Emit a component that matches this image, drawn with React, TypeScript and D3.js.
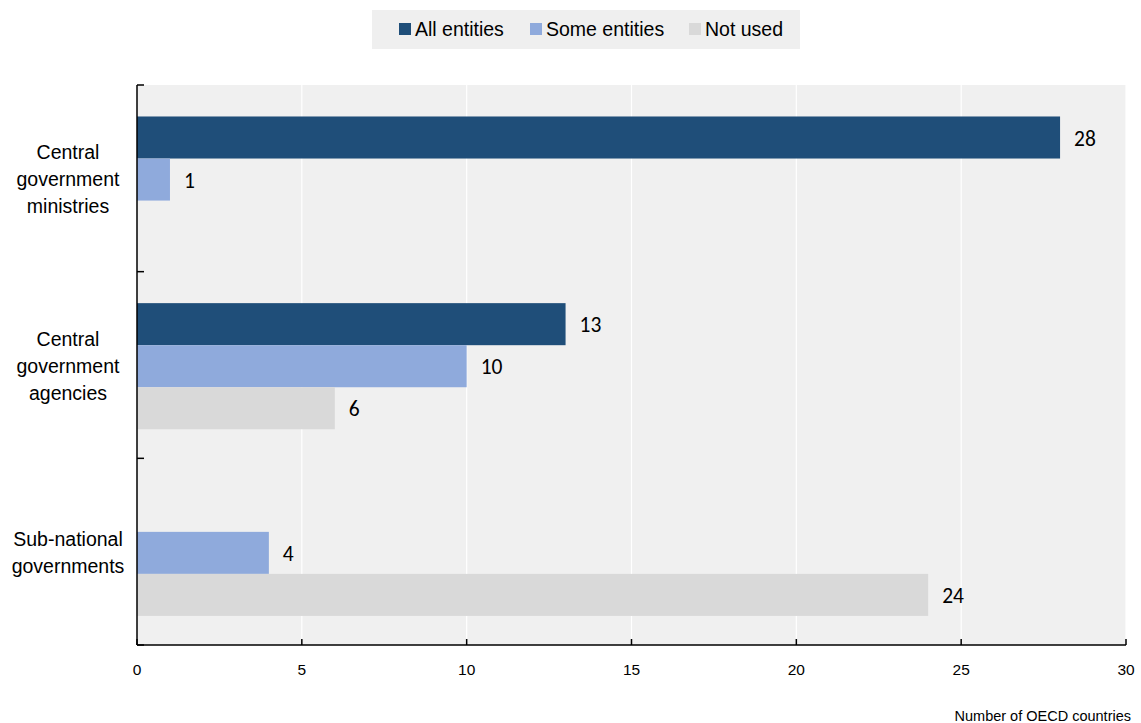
import React from "react";
import * as d3 from "d3";

const categories = ["Central government ministries", "Central government agencies", "Sub-national governments"];
const categoryLines = [["Central", "government", "ministries"], ["Central", "government", "agencies"], ["Sub-national", "governments"]];
const seriesNames = ["All entities", "Some entities", "Not used"];
const allEntities = [28, 13, 0];
const someEntities = [1, 10, 4];
const notUsed = [0, 6, 24];
const xTicks = [0, 5, 10, 15, 20, 25, 30];
const colors = ["#1F4E79", "#8FAADC", "#D9D9D9"];

export default function App() {
  const W = 1141, H = 723;
  const left = 137, right = 1126, top = 85, bottom = 645;
  const x = d3.scaleLinear().domain([0, 30]).range([left, right]);
  const y = d3.scaleBand().domain(categories).range([top, bottom]);
  const inner = d3.scaleBand().domain(seriesNames).range([0, y.bandwidth()]).paddingOuter(0.72).paddingInner(0).align(0.52);
  const series = [allEntities, someEntities, notUsed];
  const legendItems = [
    { name: seriesNames[0], x: 399, tx: 415 },
    { name: seriesNames[1], x: 530, tx: 546 },
    { name: seriesNames[2], x: 689, tx: 705 },
  ];
  return (
    <svg width={W} height={H} style={{ position: "absolute", left: 0, top: 0, fontFamily: "Liberation Sans, Arial, sans-serif" }}>
      <rect x={0} y={0} width={W} height={H} fill="#fff" />
      {/* legend */}
      <rect x={372} y={10} width={428} height={39} fill="#EFEFEF" />
      {legendItems.map((l, i) => (
        <g key={l.name}>
          <rect x={l.x} y={23} width={12} height={12} fill={colors[i]} />
          <text x={l.tx} y={36} fontSize={19.5} fill="#000">{l.name}</text>
        </g>
      ))}
      {/* plot area */}
      <rect x={left} y={top} width={right - left} height={bottom - top} fill="#F0F0F0" />
      {xTicks.slice(1).map(t => (
        <line key={t} x1={x(t)} x2={x(t)} y1={top} y2={bottom} stroke="#fff" strokeWidth={1.2} />
      ))}
      {categories.map((c, ci) => (
        <g key={c}>
          {series.map((s, si) => {
            const v = s[ci];
            const by = (y(c) as number) + (inner(seriesNames[si]) as number);
            return (
              <g key={si}>
                {v > 0 && <rect x={x(0)} y={by} width={x(v) - x(0)} height={inner.bandwidth()} fill={colors[si]} />}
                {v > 0 && (
                  <text x={x(v) + 14} y={by + inner.bandwidth() / 2 + 8} fontSize={21.5} fontFamily="Carlito, 'Open Sans', sans-serif" fill="#000">{v}</text>
                )}
              </g>
            );
          })}
          {categoryLines[ci].map((ln, li) => {
            const n = categoryLines[ci].length;
            const cy = (y(c) as number) + y.bandwidth() / 2 + (li - (n - 1) / 2) * 27 + 8;
            return (
              <text key={li} x={68} y={cy} textAnchor="middle" fontSize={19.5} fill="#000">{ln}</text>
            );
          })}
        </g>
      ))}
      {/* axes */}
      <line x1={left} x2={left} y1={top} y2={bottom} stroke="#000" strokeWidth={1.5} />
      <line x1={left} x2={right} y1={bottom} y2={bottom} stroke="#000" strokeWidth={1.5} />
      {[...categories.map(c => y(c) as number), bottom].map((t, i) => (
        <line key={i} x1={left} x2={left + 7} y1={t} y2={t} stroke="#000" strokeWidth={1.5} />
      ))}
      {xTicks.map(t => (
        <g key={t}>
          <line x1={x(t)} x2={x(t)} y1={bottom} y2={bottom - 6} stroke="#000" strokeWidth={1.5} />
          <text x={x(t)} y={675} textAnchor="middle" fontSize={15.5} fill="#000">{t}</text>
        </g>
      ))}
      <text x={1131} y={721} textAnchor="end" fontSize={14.5} fill="#000">Number of OECD countries</text>
    </svg>
  );
}
